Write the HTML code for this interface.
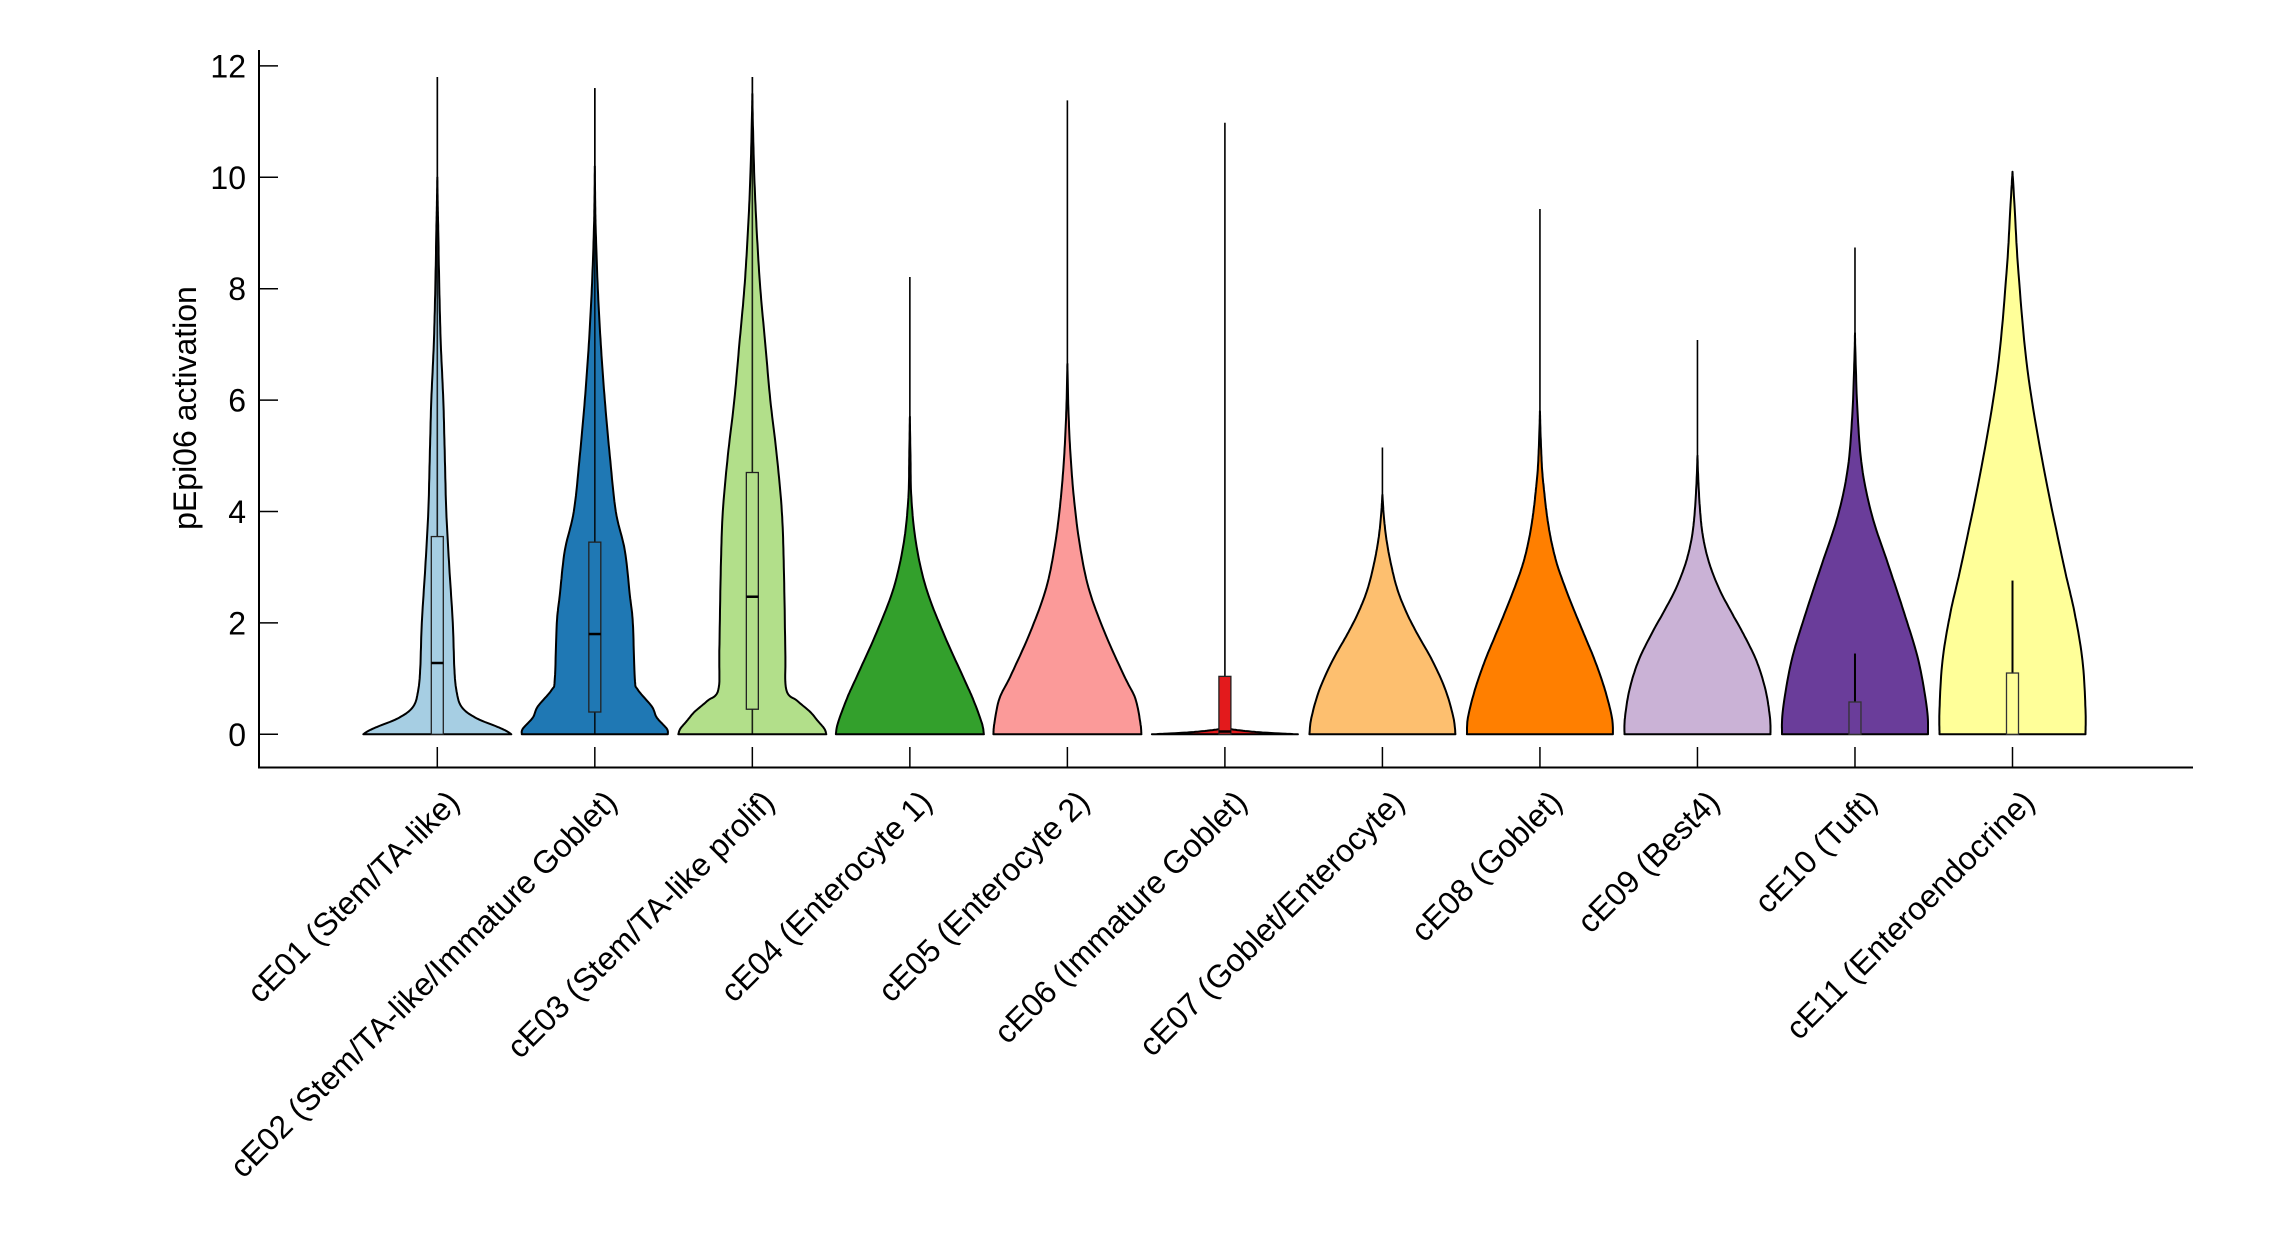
<!DOCTYPE html>
<html><head><meta charset="utf-8"><style>
html,body{margin:0;padding:0;background:#fff;}
svg{display:block;font-family:"Liberation Sans",Arial,sans-serif;}
</style></head><body>
<svg id="s" width="2292" height="1250" viewBox="0 0 2292 1250" xmlns="http://www.w3.org/2000/svg">
<rect width="2292" height="1250" fill="#fff"/>
<g id="v"></g>
<g stroke="#000" stroke-width="2" fill="none">
<line x1="259" y1="50" x2="259" y2="768"/>
<line x1="258" y1="767.5" x2="2193" y2="767.5"/>
</g>
<g id="ax" font-size="32" fill="#000"></g>
<text transform="translate(196,408) rotate(-90)" text-anchor="middle" font-size="32">pEpi06 activation</text>
</svg>
<script>
var NS="http://www.w3.org/2000/svg";
function Y(v){return 734.3-55.7*v;}
var cx=[];for(var i=0;i<11;i++)cx.push(437.3+157.52*i);
var cols=["#a6cee3","#1f78b4","#b2df8a","#33a02c","#fb9a99","#e31a1c","#fdbf6f","#ff7f00","#cab2d6","#6a3d9a","#ffff99"];
var prof=[
[[0,74],[0.05,70],[0.12,62],[0.3,38],[0.5,24],[0.8,19],[1.2,17],[2,15.5],[3,12],[4,9],[5,7.5],[6,6],[7,3.5],[8,2],[9,1],[9.5,0.4],[10,0]],
[[0,73],[0.1,72],[0.3,62],[0.5,57],[0.8,43],[1,40],[2,38],[2.5,35],[3.3,30],[4,21],[5,15],[6,10],[7,6],[8,3],[9,1],[9.5,0.4],[10.2,0]],
[[0,74],[0.1,72],[0.25,65],[0.4,58],[0.6,45],[0.8,34],[1.5,33],[3,31.5],[4,29.5],[5,24.5],[6,18],[7,13],[8,8],[9,4.5],[10,2],[11,0.5],[11.5,0]],
[[0,74],[0.2,72],[0.64,63],[1.04,53],[1.84,33],[2.64,16],[3.45,6],[4.25,1.5],[5,0.6],[5.7,0]],
[[0,74],[0.2,73],[0.64,68],[1.04,57],[1.84,37],[2.64,21],[3.45,12],[4.25,6.5],[5.05,3],[5.85,1],[6.65,0]],
[[0,73],[0.03,40],[0.06,20],[0.1,3],[0.12,0]],
[[0,73],[0.3,71],[0.8,63],[1.32,50],[1.8,35],[2.19,24],[2.6,15],[3.06,8.5],[3.5,4],[3.9,1.5],[4.3,0]],
[[0,73],[0.3,72],[0.8,65],[1.32,55],[1.8,44],[2.19,35],[2.6,26],[3.06,17],[3.5,11],[3.93,7],[4.4,4],[4.8,2],[5.4,0.6],[5.8,0]],
[[0,73],[0.3,72.5],[0.8,68],[1.32,59],[1.8,46],[2.19,34],[2.6,22],[3.06,12],[3.5,6],[3.93,3],[4.5,1],[5,0]],
[[0,73],[0.45,72],[1.32,63.5],[2.19,49],[3.06,33],[3.93,17],[4.8,7],[5.8,2.5],[6.8,0.5],[7.2,0]],
[[0,73],[0.45,73],[1.32,70],[2.19,62],[3.06,51],[4.8,31],[6.54,15],[8.28,6],[9.5,2],[10.1,0]]
];
var wt=[11.8,11.6,11.8,8.21,11.38,10.98,5.15,9.43,7.08,8.74,10.1];
var box=[[0,3.55,1.28],[0.4,3.45,1.8],[0.45,4.7,2.47],null,null,[0,1.04,0.05],null,null,null,[0,0.58,null],[0,1.1,null]];
var labels=["cE01 (Stem/TA-like)","cE02 (Stem/TA-like/Immature Goblet)","cE03 (Stem/TA-like prolif)","cE04 (Enterocyte 1)","cE05 (Enterocyte 2)","cE06 (Immature Goblet)","cE07 (Goblet/Enterocyte)","cE08 (Goblet)","cE09 (Best4)","cE10 (Tuft)","cE11 (Enteroendocrine)"];
function el(t,a,p){var e=document.createElementNS(NS,t);for(var k in a)e.setAttribute(k,a[k]);p.appendChild(e);return e;}
var g=document.getElementById("v"),ax=document.getElementById("ax");
for(var i=0;i<11;i++){
 var c=cx[i],p=prof[i];
 var pts=[];
 for(var j=0;j<p.length-1;j++){
  var p0=p[Math.max(j-1,0)],p1=p[j],p2=p[j+1],p3=p[Math.min(j+2,p.length-1)];
  for(var t=0;t<1;t+=0.1){
   var t2=t*t,t3=t2*t;
   var cr=function(a,b,c2,d){return 0.5*((2*b)+(-a+c2)*t+(2*a-5*b+4*c2-d)*t2+(-a+3*b-3*c2+d)*t3);};
   pts.push([cr(p0[0],p1[0],p2[0],p3[0]),Math.max(0,cr(p0[1],p1[1],p2[1],p3[1]))]);
  }
 }
 pts.push(p[p.length-1]);
 var d="M"+(c-pts[0][1])+","+Y(0);
 for(var j=0;j<pts.length;j++)d+="L"+(c-pts[j][1]).toFixed(1)+","+Y(pts[j][0]).toFixed(1);
 for(var j=pts.length-1;j>=0;j--)d+="L"+(c+pts[j][1]).toFixed(1)+","+Y(pts[j][0]).toFixed(1);
 d+="Z";
 el("line",{x1:c,y1:Y(0),x2:c,y2:Y(wt[i]),stroke:"#000","stroke-width":1.6},g);
 el("path",{d:d,fill:cols[i],stroke:"#000","stroke-width":2,"stroke-linejoin":"round"},g);
 if(i<3)el("line",{x1:c,y1:Y(0),x2:c,y2:Y(wt[i]),stroke:"#000","stroke-width":1.6,"stroke-opacity":0.85},g);
 var b=box[i];
 if(b){
  if(i==9)el("line",{x1:c,y1:Y(0.58),x2:c,y2:Y(1.45),stroke:"#000","stroke-width":2},g);
  if(i==10)el("line",{x1:c,y1:Y(1.1),x2:c,y2:Y(2.76),stroke:"#000","stroke-width":2},g);
  el("rect",{x:c-6,y:Y(b[1]),width:12,height:Y(b[0])-Y(b[1]),fill:cols[i],stroke:i>=9?"#333":"#222","stroke-width":1.3},g);
  if(b[2]!=null)el("line",{x1:c-6,y1:Y(b[2]),x2:c+6,y2:Y(b[2]),stroke:"#000","stroke-width":2.5},g);
 }
 el("line",{x1:c,y1:747,x2:c,y2:767,stroke:"#000","stroke-width":1.5},ax);
 var tx=c+16,ty=796;
 var tt=el("text",{transform:"translate("+tx+","+ty+") rotate(-45)","text-anchor":"end",dy:"0.35em"},ax);
 tt.textContent=labels[i];
}
for(var v=0;v<=12;v+=2){
 el("line",{x1:259,y1:Y(v),x2:278,y2:Y(v),stroke:"#000","stroke-width":1.5},ax);
 var tt=el("text",{x:246,y:Y(v)+11.5,"text-anchor":"end"},ax);tt.textContent=v;
}
</script>
</body></html>
